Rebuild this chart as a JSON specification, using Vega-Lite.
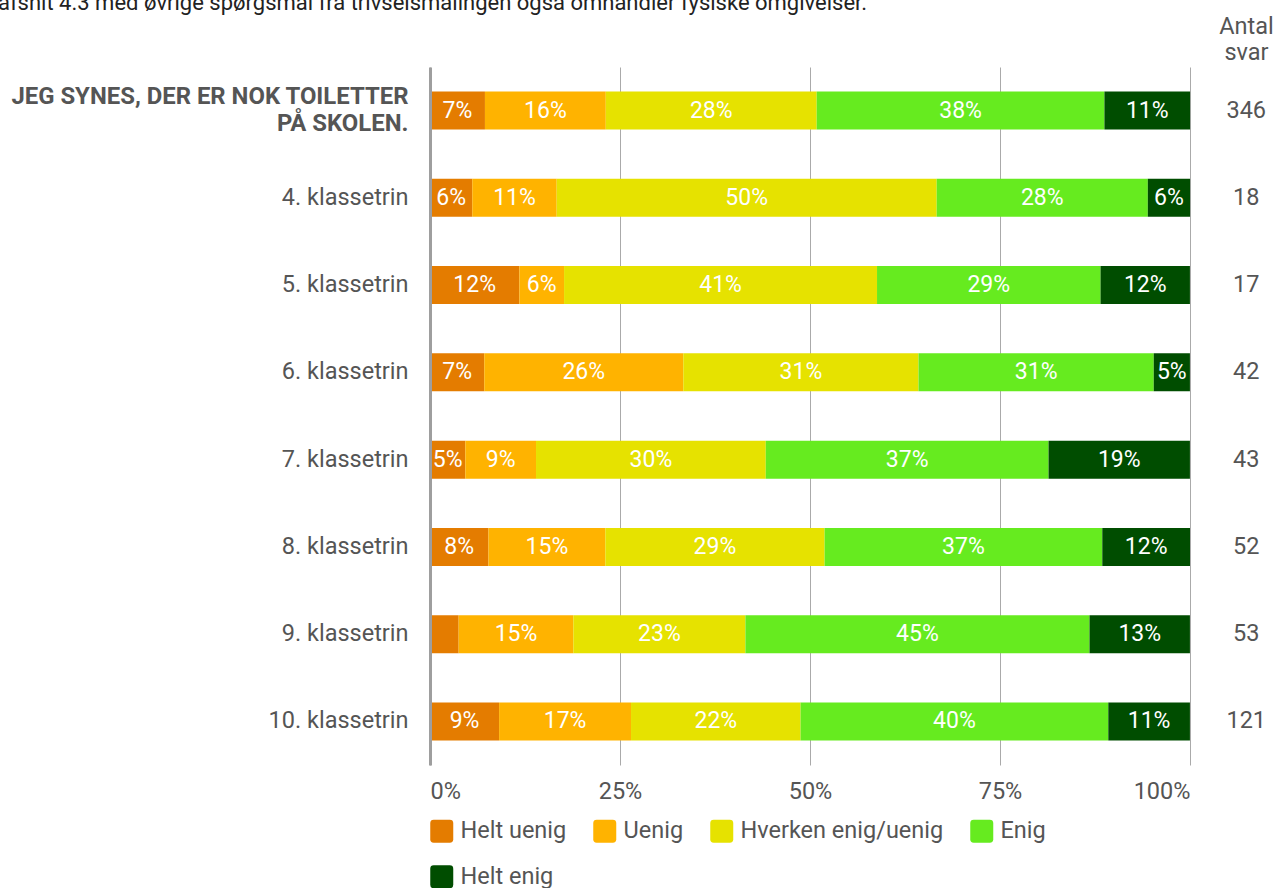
{
  "$schema": "https://vega.github.io/schema/vega-lite/v6.json",
  "autosize": {"type": "none"},
  "width": 760,
  "height": 698,
  "padding": {"left": 430, "top": 67, "right": 83, "bottom": 123},
  "background": "white",
  "config": {
    "font": "Roboto",
    "view": {"stroke": null}
  },
  "title": {
    "text": "afsnit 4.3 med øvrige spørgsmål fra trivselsmålingen også omhandler fysiske omgivelser.",
    "anchor": "start",
    "frame": "group",
    "dx": -432,
    "fontSize": 22,
    "font": "Roboto",
    "fontWeight": "normal",
    "color": "#222222",
    "baseline": "alphabetic",
    "offset": -18
  },
  "datasets": {
    "svar": [
      {"grp": "JEG SYNES, DER ER NOK TOILETTER PÅ SKOLEN.", "svar": "Helt uenig", "k": 1, "pct": 0.0723},
      {"grp": "JEG SYNES, DER ER NOK TOILETTER PÅ SKOLEN.", "svar": "Uenig", "k": 2, "pct": 0.1590},
      {"grp": "JEG SYNES, DER ER NOK TOILETTER PÅ SKOLEN.", "svar": "Hverken enig/uenig", "k": 3, "pct": 0.2775},
      {"grp": "JEG SYNES, DER ER NOK TOILETTER PÅ SKOLEN.", "svar": "Enig", "k": 4, "pct": 0.3786},
      {"grp": "JEG SYNES, DER ER NOK TOILETTER PÅ SKOLEN.", "svar": "Helt enig", "k": 5, "pct": 0.1127},
      {"grp": "4. klassetrin", "svar": "Helt uenig", "k": 1, "pct": 0.0556},
      {"grp": "4. klassetrin", "svar": "Uenig", "k": 2, "pct": 0.1111},
      {"grp": "4. klassetrin", "svar": "Hverken enig/uenig", "k": 3, "pct": 0.5000},
      {"grp": "4. klassetrin", "svar": "Enig", "k": 4, "pct": 0.2778},
      {"grp": "4. klassetrin", "svar": "Helt enig", "k": 5, "pct": 0.0556},
      {"grp": "5. klassetrin", "svar": "Helt uenig", "k": 1, "pct": 0.1176},
      {"grp": "5. klassetrin", "svar": "Uenig", "k": 2, "pct": 0.0588},
      {"grp": "5. klassetrin", "svar": "Hverken enig/uenig", "k": 3, "pct": 0.4118},
      {"grp": "5. klassetrin", "svar": "Enig", "k": 4, "pct": 0.2941},
      {"grp": "5. klassetrin", "svar": "Helt enig", "k": 5, "pct": 0.1176},
      {"grp": "6. klassetrin", "svar": "Helt uenig", "k": 1, "pct": 0.0714},
      {"grp": "6. klassetrin", "svar": "Uenig", "k": 2, "pct": 0.2619},
      {"grp": "6. klassetrin", "svar": "Hverken enig/uenig", "k": 3, "pct": 0.3095},
      {"grp": "6. klassetrin", "svar": "Enig", "k": 4, "pct": 0.3095},
      {"grp": "6. klassetrin", "svar": "Helt enig", "k": 5, "pct": 0.0476},
      {"grp": "7. klassetrin", "svar": "Helt uenig", "k": 1, "pct": 0.0465},
      {"grp": "7. klassetrin", "svar": "Uenig", "k": 2, "pct": 0.0930},
      {"grp": "7. klassetrin", "svar": "Hverken enig/uenig", "k": 3, "pct": 0.3023},
      {"grp": "7. klassetrin", "svar": "Enig", "k": 4, "pct": 0.3721},
      {"grp": "7. klassetrin", "svar": "Helt enig", "k": 5, "pct": 0.1860},
      {"grp": "8. klassetrin", "svar": "Helt uenig", "k": 1, "pct": 0.0769},
      {"grp": "8. klassetrin", "svar": "Uenig", "k": 2, "pct": 0.1538},
      {"grp": "8. klassetrin", "svar": "Hverken enig/uenig", "k": 3, "pct": 0.2885},
      {"grp": "8. klassetrin", "svar": "Enig", "k": 4, "pct": 0.3654},
      {"grp": "8. klassetrin", "svar": "Helt enig", "k": 5, "pct": 0.1154},
      {"grp": "9. klassetrin", "svar": "Helt uenig", "k": 1, "pct": 0.0377},
      {"grp": "9. klassetrin", "svar": "Uenig", "k": 2, "pct": 0.1509},
      {"grp": "9. klassetrin", "svar": "Hverken enig/uenig", "k": 3, "pct": 0.2264},
      {"grp": "9. klassetrin", "svar": "Enig", "k": 4, "pct": 0.4528},
      {"grp": "9. klassetrin", "svar": "Helt enig", "k": 5, "pct": 0.1321},
      {"grp": "10. klassetrin", "svar": "Helt uenig", "k": 1, "pct": 0.0909},
      {"grp": "10. klassetrin", "svar": "Uenig", "k": 2, "pct": 0.1736},
      {"grp": "10. klassetrin", "svar": "Hverken enig/uenig", "k": 3, "pct": 0.2231},
      {"grp": "10. klassetrin", "svar": "Enig", "k": 4, "pct": 0.4049},
      {"grp": "10. klassetrin", "svar": "Helt enig", "k": 5, "pct": 0.1074}
    ],
    "antal": [
      {"grp": "JEG SYNES, DER ER NOK TOILETTER PÅ SKOLEN.", "n": 346, "col": 1.074},
      {"grp": "4. klassetrin", "n": 18, "col": 1.074},
      {"grp": "5. klassetrin", "n": 17, "col": 1.074},
      {"grp": "6. klassetrin", "n": 42, "col": 1.074},
      {"grp": "7. klassetrin", "n": 43, "col": 1.074},
      {"grp": "8. klassetrin", "n": 52, "col": 1.074},
      {"grp": "9. klassetrin", "n": 53, "col": 1.074},
      {"grp": "10. klassetrin", "n": 121, "col": 1.074}
    ]
  },
  "resolve": {"axis": {"y": "independent"}},
  "layer": [
    {
      "data": {"name": "svar"},
      "mark": {"type": "bar"},
      "encoding": {
        "y": {
          "field": "grp",
          "type": "nominal",
          "sort": ["JEG SYNES, DER ER NOK TOILETTER PÅ SKOLEN.", "4. klassetrin", "5. klassetrin", "6. klassetrin", "7. klassetrin", "8. klassetrin", "9. klassetrin", "10. klassetrin"],
          "scale": {"paddingInner": 0.5645, "paddingOuter": 0.282},
          "axis": {
            "title": null,
            "orient": "left",
            "ticks": false,
            "grid": false,
            "domain": true,
            "domainColor": "#9e9e9e",
            "domainWidth": 3,
            "zindex": 1,
            "labelFont": "Roboto",
            "labelFontSize": {"condition": {"test": "datum.value == 'JEG SYNES, DER ER NOK TOILETTER PÅ SKOLEN.'", "value": 23.9}, "value": 23.5},
            "labelColor": "#555555",
            "labelPadding": 22,
            "labelLimit": 500,
            "labelLineHeight": 27,
            "labelExpr": "datum.value == 'JEG SYNES, DER ER NOK TOILETTER PÅ SKOLEN.' ? ['JEG SYNES, DER ER NOK TOILETTER', 'PÅ SKOLEN.'] : datum.value",
            "labelFontWeight": {"condition": {"test": "datum.value == 'JEG SYNES, DER ER NOK TOILETTER PÅ SKOLEN.'", "value": "bold"}, "value": "normal"},
            "labelOffset": {"condition": {"test": "datum.value == 'JEG SYNES, DER ER NOK TOILETTER PÅ SKOLEN.'", "value": -13.5}, "value": 0}
          }
        },
        "x": {
          "field": "pct",
          "type": "quantitative",
          "stack": "zero",
          "scale": {"domain": [0, 1], "nice": false, "zero": true},
          "axis": {
            "title": null,
            "values": [0, 0.25, 0.5, 0.75, 1],
            "format": ".0%",
            "labelFlush": true,
            "ticks": false,
            "domain": false,
            "grid": true,
            "gridColor": "#aaaaaa",
            "gridWidth": 1,
            "labelFont": "Roboto",
            "labelFontSize": 23.5,
            "labelColor": "#555555",
            "labelPadding": 14
          }
        },
        "color": {
          "field": "svar",
          "type": "nominal",
          "scale": {
            "domain": ["Helt uenig", "Uenig", "Hverken enig/uenig", "Enig", "Helt enig"],
            "range": ["#E47C00", "#FFB300", "#E6E200", "#66EB1F", "#004D00"]
          },
          "legend": {
            "title": null,
            "orient": "bottom",
            "direction": "horizontal",
            "columns": 4,
            "offset": 16,
            "labelFont": "Roboto",
            "labelFontSize": 23.5,
            "labelColor": "#555555",
            "labelOffset": 7,
            "columnPadding": 26,
            "rowPadding": 21,
            "symbolType": "M-0.7,-1H0.7Q1,-1,1,-0.7V0.7Q1,1,0.7,1H-0.7Q-1,1,-1,0.7V-0.7Q-1,-1,-0.7,-1Z",
            "symbolSize": 529,
            "symbolStrokeWidth": 0,
            "symbolOpacity": 1,
            "labelLimit": 400
          }
        },
        "order": {"field": "k", "type": "quantitative"}
      }
    },
    {
      "data": {"name": "svar"},
      "mark": {"type": "text", "color": "white", "font": "Roboto", "fontSize": 23, "align": "center", "baseline": "middle"},
      "encoding": {
        "y": {
          "field": "grp",
          "type": "nominal",
          "sort": ["JEG SYNES, DER ER NOK TOILETTER PÅ SKOLEN.", "4. klassetrin", "5. klassetrin", "6. klassetrin", "7. klassetrin", "8. klassetrin", "9. klassetrin", "10. klassetrin"],
          "axis": null
        },
        "x": {
          "field": "pct",
          "type": "quantitative",
          "stack": "zero",
          "bandPosition": 0.5,
          "scale": {"domain": [0, 1], "nice": false, "zero": true}
        },
        "detail": {"field": "svar", "type": "nominal"},
        "order": {"field": "k", "type": "quantitative"},
        "text": {
          "condition": {"test": "datum.pct < 0.04", "value": ""},
          "field": "pct",
          "type": "quantitative",
          "format": ".0%"
        }
      }
    },
    {
      "data": {"name": "antal"},
      "mark": {"type": "text", "color": "#555555", "font": "Roboto", "fontSize": 23.5, "align": "center", "baseline": "middle"},
      "encoding": {
        "y": {
          "field": "grp",
          "type": "nominal",
          "sort": ["JEG SYNES, DER ER NOK TOILETTER PÅ SKOLEN.", "4. klassetrin", "5. klassetrin", "6. klassetrin", "7. klassetrin", "8. klassetrin", "9. klassetrin", "10. klassetrin"],
          "axis": {
            "orient": "right",
            "labels": false,
            "ticks": false,
            "domain": false,
            "grid": false,
            "title": ["Antal", "svar"],
            "titleAngle": 0,
            "titleX": 56,
            "titleY": -34,
            "titleAlign": "center",
            "titleBaseline": "alphabetic",
            "titleFont": "Roboto",
            "titleFontSize": 23.5,
            "titleFontWeight": "normal",
            "titleColor": "#555555",
            "titleLineHeight": 26
          }
        },
        "x": {
          "field": "col",
          "type": "quantitative",
          "scale": {"domain": [0, 1], "nice": false, "zero": true}
        },
        "text": {"field": "n", "type": "quantitative"}
      }
    }
  ]
}
